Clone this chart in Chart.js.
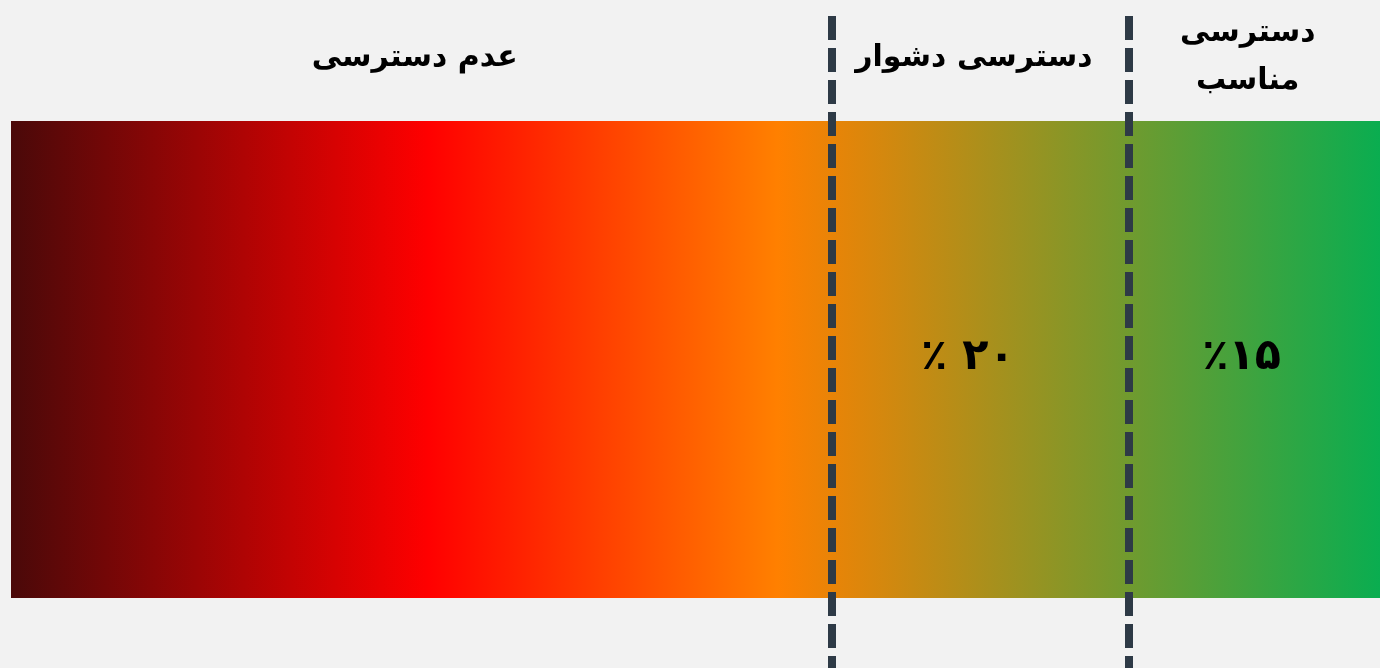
<!DOCTYPE html>
<html lang="fa">
<head>
<meta charset="utf-8">
<title>Access levels</title>
<script src="https://cdn.jsdelivr.net/npm/chart.js@4.4.1/dist/chart.umd.min.js"></script>
<style>
  html, body { margin: 0; padding: 0; background: #f2f2f2; }
  #wrap { width: 1380px; height: 668px; position: relative; }
</style>
</head>
<body>
<div id="wrap"><canvas id="chart" width="1380" height="668"></canvas></div>
<script>
// ── Data ──────────────────────────────────────────────────────────────────────
const SEGMENT_LABELS = ['عدم دسترسی', 'دسترسی دشوار', ['دسترسی', 'مناسب']];
const SEGMENT_SHARES = [65, 20, 15];            // percent shown in each zone
const SHOW_SHARE     = [false, true, true];     // first zone has no figure
const SHARE_SEP      = ['', ' ', ''];           // spacing after the % sign, as drawn
const AXIS_RANGE     = [0, 100];                // full bar on the x scale
const BOUNDARIES     = [60, 81.7];              // dashed separators (x scale)

// gradient of the bar, left to right
const GRAD_STOPS  = [0, 0.305, 0.56, 1];
const GRAD_COLORS = ['#4a0909', '#ff0000', '#ff8000', '#0aad50'];

const FA_DIGITS = '۰۱۲۳۴۵۶۷۸۹';
const faNum = n => String(n).replace(/\d/g, d => FA_DIGITS[d]);

// ── Plugins ───────────────────────────────────────────────────────────────────
const zoneEdges = () => [AXIS_RANGE[0], ...BOUNDARIES, AXIS_RANGE[1]];

const separators = {
  id: 'separators',
  afterDatasetsDraw(chart) {
    const { ctx, scales: { x } } = chart;
    ctx.save();
    ctx.strokeStyle = '#2e3a46';
    ctx.lineWidth = 8;
    ctx.setLineDash([24, 8]);
    BOUNDARIES.forEach(b => {
      const px = Math.round(x.getPixelForValue(b));
      ctx.beginPath();
      ctx.moveTo(px, 16);
      ctx.lineTo(px, chart.height);
      ctx.stroke();
    });
    ctx.restore();
  },
};

const zoneText = {
  id: 'zoneText',
  afterDraw(chart) {
    const { ctx, chartArea, scales: { x } } = chart;
    const edges = zoneEdges();
    ctx.save();
    ctx.fillStyle = '#000';
    ctx.textAlign = 'center';
    ctx.textBaseline = 'middle';
    SEGMENT_LABELS.forEach((lab, i) => {
      const cx = (x.getPixelForValue(edges[i]) + x.getPixelForValue(edges[i + 1])) / 2 - 7;
      ctx.direction = 'rtl';
      ctx.font = 'bold 30px "DejaVu Sans"';
      const lines = Array.isArray(lab) ? lab : [lab];
      const lh = 48;
      const top = (lines.length > 1 ? 57 : 58) - (lines.length - 1) * lh / 2;
      lines.forEach((ln, j) => ctx.fillText(ln, cx, top + j * lh));

      if (SHOW_SHARE[i]) {
        ctx.direction = 'ltr';
        ctx.font = 'bold 43px "DejaVu Sans"';
        const cy = (chartArea.top + chartArea.bottom) / 2 - 2;
        ctx.fillText('٪' + SHARE_SEP[i] + faNum(SEGMENT_SHARES[i]), cx - 6, cy);
      }
    });
    ctx.restore();
  },
};

// ── Chart ─────────────────────────────────────────────────────────────────────
new Chart(document.getElementById('chart'), {
  type: 'bar',
  data: {
    labels: [''],
    datasets: [{
      data: [AXIS_RANGE],
      backgroundColor: c => {
        const area = c.chart.chartArea;
        if (!area) return GRAD_COLORS[0];
        const g = c.chart.ctx.createLinearGradient(area.left, 0, area.right, 0);
        GRAD_STOPS.forEach((s, i) => g.addColorStop(s, GRAD_COLORS[i]));
        return g;
      },
      borderWidth: 0,
      barPercentage: 1,
      categoryPercentage: 1,
    }],
  },
  options: {
    indexAxis: 'y',
    responsive: false,
    animation: false,
    layout: { padding: { top: 121, bottom: 70, left: 11, right: 0 } },
    plugins: { legend: { display: false }, tooltip: { enabled: false } },
    scales: {
      x: { display: false, min: AXIS_RANGE[0], max: AXIS_RANGE[1] },
      y: { display: false },
    },
  },
  plugins: [separators, zoneText],
});
</script>
</body>
</html>
